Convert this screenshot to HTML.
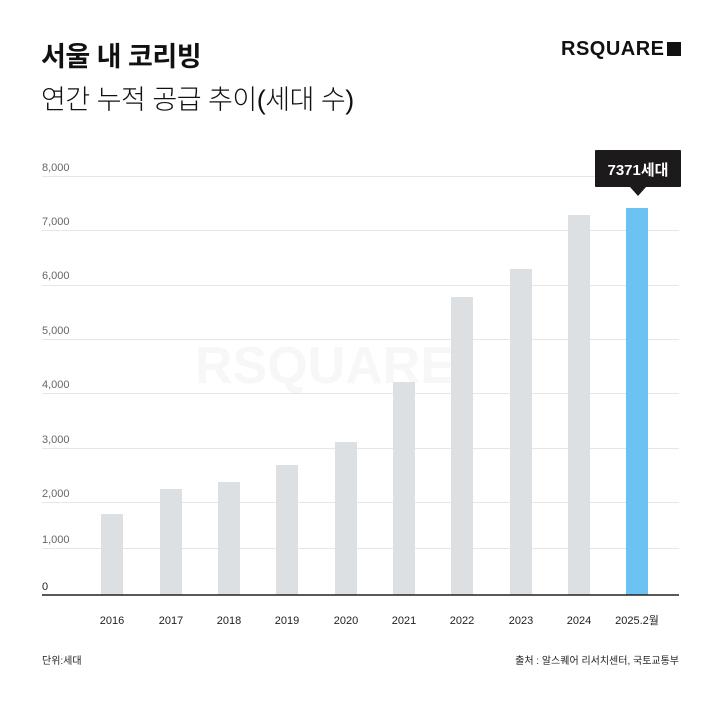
<!DOCTYPE html>
<html><head><meta charset="utf-8"><style>
body{margin:0;width:719px;height:715px;background:#fff;overflow:hidden;font-family:"Liberation Sans","Noto Sans CJK KR",sans-serif;position:relative}
.a{position:absolute;white-space:nowrap}
</style></head><body>
<div class="a" style="left:41px;top:35px;font-size:27px;font-weight:bold;color:#111;letter-spacing:-0.5px">서울 내 코리빙</div>
<div class="a" style="left:41px;top:78px;font-size:27px;font-weight:300;color:#111;letter-spacing:-0.5px">연간 누적 공급 추이(세대 수)</div>
<div class="a" style="left:561px;top:38px;font-size:20px;font-weight:bold;color:#111;letter-spacing:0.5px">RSQUARE<span style="display:inline-block;width:14px;height:14px;background:#111;margin-left:2px;vertical-align:-1px"></span></div>
<div class="a" style="left:195px;top:336px;font-size:52px;font-weight:bold;color:#f7f7f7">RSQUARE</div>
<svg class="a" style="left:0;top:0" width="719" height="715">
<g stroke="#e6e6e6" stroke-width="1">
<line x1="42" x2="679" y1="176.5" y2="176.5"/><line x1="42" x2="679" y1="230.5" y2="230.5"/><line x1="42" x2="679" y1="285.5" y2="285.5"/><line x1="42" x2="679" y1="339.5" y2="339.5"/><line x1="42" x2="679" y1="393.5" y2="393.5"/><line x1="42" x2="679" y1="448.5" y2="448.5"/><line x1="42" x2="679" y1="502.5" y2="502.5"/><line x1="42" x2="679" y1="548.5" y2="548.5"/>
</g>
<g fill="#dde0e3">
<rect x="101" y="514" width="22" height="81"/><rect x="160" y="489" width="22" height="106"/><rect x="218" y="482" width="22" height="113"/><rect x="276" y="465" width="22" height="130"/><rect x="335" y="442" width="22" height="153"/><rect x="393" y="382" width="22" height="213"/><rect x="451" y="297" width="22" height="298"/><rect x="510" y="269" width="22" height="326"/><rect x="568" y="215" width="22" height="380"/>
</g>
<rect x="626" y="208" width="22" height="387" fill="#6cc3f1"/>
<line x1="42" x2="679" y1="595" y2="595" stroke="#222" stroke-width="1.5"/>
<rect x="595" y="150" width="86" height="37" fill="#1c1a1b" rx="1"/>
<polygon points="630,187 646,187 638,196" fill="#1c1a1b"/>
<text x="638" y="175" text-anchor="middle" font-size="15" font-weight="bold" fill="#fff">7371세대</text>
<g font-size="11" fill="#666">
<text x="42" y="171">8,000</text><text x="42" y="225">7,000</text><text x="42" y="279">6,000</text><text x="42" y="334">5,000</text><text x="42" y="388">4,000</text><text x="42" y="443">3,000</text><text x="42" y="497">2,000</text><text x="42" y="543">1,000</text><text x="42" y="590" fill="#222">0</text>
</g>
<g font-size="11" fill="#222" text-anchor="middle">
<text x="112" y="624">2016</text><text x="171" y="624">2017</text><text x="229" y="624">2018</text><text x="287" y="624">2019</text><text x="346" y="624">2020</text><text x="404" y="624">2021</text><text x="462" y="624">2022</text><text x="521" y="624">2023</text><text x="579" y="624">2024</text><text x="637" y="624">2025.2월</text>
</g>
<text x="42" y="664" font-size="10" fill="#222">단위:세대</text>
<text x="679" y="664" font-size="10" fill="#222" text-anchor="end">출처 : 알스퀘어 리서치센터, 국토교통부</text>
</svg>
</body></html>
